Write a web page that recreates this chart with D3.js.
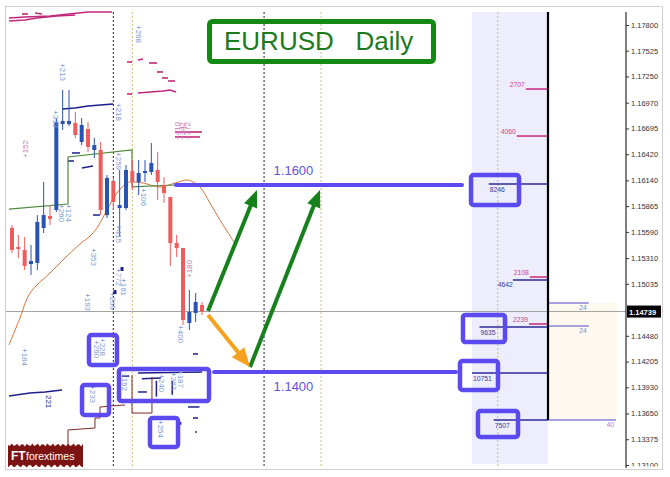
<!DOCTYPE html>
<html><head><meta charset="utf-8">
<script src="https://cdn.jsdelivr.net/npm/d3@7"></script>
<style>body{margin:0;background:#fff}svg{display:block}</style>
</head><body>
<svg id="c" width="670" height="477"></svg>
<script>
// ---------------- DATA ----------------
const opens =[1.15632,1.15429,1.15397,1.15247,1.15258,1.15632,1.15760,1.15824,1.16742,1.16742,1.16753,1.16550,1.16689,1.16465,1.16465,1.15770,1.16134,1.15845,1.15845,1.16240,1.16123,1.16219,1.16230,1.16251,1.16091,1.15963,1.15471,1.15418,1.14617,1.14724,1.14809];
const highs =[1.15664,1.15557,1.15535,1.15450,1.15770,1.16123,1.15877,1.16806,1.17106,1.17106,1.16871,1.16807,1.16764,1.16593,1.16550,1.16198,1.16166,1.16251,1.16305,1.16358,1.16358,1.16358,1.16540,1.16443,1.16176,1.15963,1.15557,1.15418,1.14969,1.14937,1.14841];
const lows  =[1.15365,1.15311,1.15183,1.15130,1.15183,1.15578,1.15664,1.15802,1.16678,1.16721,1.16593,1.16518,1.16443,1.16379,1.15770,1.15738,1.15824,1.15546,1.15824,1.16037,1.15984,1.16123,1.16198,1.15931,1.15899,1.15226,1.15322,1.14595,1.14542,1.14627,1.14702];
const closes=[1.15397,1.15407,1.15226,1.15279,1.15696,1.15770,1.15728,1.16764,1.16775,1.16775,1.16625,1.16732,1.16497,1.16518,1.15824,1.16166,1.15909,1.15877,1.16251,1.16123,1.16219,1.16240,1.16326,1.16123,1.16005,1.15471,1.15418,1.14649,1.14734,1.14841,1.14739];

const priceTicks=[1.17800,1.17525,1.17250,1.16970,1.16695,1.16420,1.16140,1.15865,1.15590,1.15310,1.15035,1.14480,1.14205,1.13930,1.13650,1.13375,1.13100];
const currentPrice=1.14739;

const blackSeparators=[16,39.8];
const tanSeparators=[19,48.8,76.7];

// moving averages (bar index, price)
const greenMA=[[-0.47,1.15834],[8.84,1.15888],[8.84,1.16390],[18.95,1.16465],[18.95,1.16070],[25.74,1.16091]];
const orangeMA=[[-0.47,1.14382],[1.26,1.14670],[2.84,1.14937],[6.0,1.15151],[8.05,1.15290],[10.74,1.15461],[12.32,1.15546],[13.42,1.15632],[15.0,1.15824],[16.58,1.16005],[18.16,1.16112],[18.95,1.16123],[20.68,1.16112],[23.37,1.16070],[25.74,1.16112],[27.63,1.16144],[28.58,1.16123],[29.68,1.16070],[31.26,1.15899],[32.84,1.15717],[35.05,1.15482]];

// order-book style level lines
const navyLines=[
 [[7.89,1.16903],[9.95,1.16913],[12.0,1.16935],[15.95,1.16956]],
 [[-0.47,1.13837],[2.84,1.13869],[5.21,1.13880],[7.89,1.13901]],
 [[9.47,1.16433],[10.74,1.16433]],[[8.84,1.16347],[9.79,1.16347]],[[11.05,1.16272],[12.79,1.16294]],[[12.79,1.15770],[13.89,1.15770]],
 [[28.58,1.14286],[29.37,1.14286]],[[28.58,1.13602],[29.37,1.13602]],[[28.9,1.13452],[29.2,1.13452]],
 [[19.89,1.14083],[30.0,1.14093]],[[17.37,1.14050],[18.5,1.14050]],[[19.9,1.13880],[21.3,1.13880]],[[20.5,1.14020],[23.5,1.14030]],
 [[22.8,1.14000],[22.8,1.13830]],[[27.8,1.13720],[29.6,1.13720]],[[25.3,1.14000],[25.3,1.13850]]
];
const navyBlobs=[[17.37,1.15215,1.15183],[16.26,1.14969,1.14937],[26.5,1.13560,1.13540]];
const pinkLines=[
 [[-0.47,1.17875],[2.05,1.17885],[6.0,1.17896],[12.0,1.17939],[15.79,1.17939]],
 [[-0.47,1.17843],[2.05,1.17853],[3.95,1.17875],[7.11,1.17896],[9.95,1.17907]],
 [[1.58,1.17918],[2.53,1.17918]],[[3.63,1.17928],[4.74,1.17918]],
 [[18.16,1.17405],[18.95,1.17405]],[[19.89,1.17426],[20.68,1.17437]],[[21.63,1.17394],[22.89,1.17394]],
 [[22.89,1.17298],[23.84,1.17298]],[[23.68,1.17234],[24.63,1.17234]],[[24.63,1.17202],[25.74,1.17202]],
 [[18.16,1.17063],[18.95,1.17063]],[[19.89,1.17074],[23.84,1.17095],[24.95,1.17106],[25.9,1.17084]],
 [[25.74,1.16657],[30.0,1.16657]],[[25.74,1.16604],[29.68,1.16604]]
];
const brownLines=[
 [[8.84,1.13314],[8.84,1.13474],[13.1,1.13495],[13.1,1.13602],[13.89,1.13602],[13.89,1.13719],[15.47,1.13730],[17.84,1.13741]],
 [[18.95,1.14061],[18.95,1.13655],[22.1,1.13655],[22.1,1.14040]]
];

// volume labels (bar index, price, text)
const blueLabels=[
 [7.58,1.17394,"+213"],[6.47,1.16892,"+333"],[16.42,1.16967,"+218"],[16.42,1.16443,"+259"],
 [7.42,1.15888,"+260"],[8.53,1.15888,"+124"],[20.37,1.16059,"+106"],[12.47,1.15418,"+353"],
 [16.42,1.15664,"+415"],[11.53,1.14937,"+193"],[16.42,1.15204,"+772"],[17.21,1.15097,"+161"],
 [15.47,1.14948,"+269"],[1.58,1.14350,"+184"],[12.32,1.13954,"+233"],[12.95,1.14435,"+260"],
 [13.89,1.14457,"+228"],[17.37,1.14083,"+162"],[23.21,1.14072,"+240"],[25.11,1.14093,"+263"],
 [26.21,1.14115,"+187"],[23.05,1.13581,"+254"],[26.21,1.14595,"+400"],[19.58,1.17800,"+268"]
];
const pinkLabels=[[2.53,1.16379,"+152"],[28.42,1.15097,"+180"],[26.53,1.16572,"+410"],[27.32,1.16572,"+342"],[28.11,1.16572,"+372"]];
const navyLabels=[[5.37,1.13848,"221"]];

// drawn targets
const targetLevels=[1.16091,1.14093];
const targetLabels=["1.1600","1.1400"];
const targetFrom=[25.9,31.9];
const targetTo=[71.05,70.1];
const greenArrows=[[[30.95,1.14745],[38.68,1.16037]],[[37.58,1.14147],[48.63,1.16037]]];
const orangeArrows=[[[30.95,1.14702],[37.58,1.14147]]];
const highlightBoxes=[
 [11.84,16.89,1.14510,1.14147],[16.58,31.42,1.14147,1.13762],[10.74,15.63,1.13976,1.13613],[21.47,26.53,1.13623,1.13271],
 [72.16,80.37,1.16219,1.15856],[70.89,78.16,1.14724,1.14392],[70.42,77.05,1.14232,1.13880],[73.26,80.21,1.13698,1.13378]
];

// order volume profile
const profileLevels=[1.17116,1.16614,1.16102,1.15108,1.15076,1.14606,1.14574,1.14083,1.13581];
const profileValues=[2707,4060,8246,2108,4642,2239,9635,10751,7507];
const profileSide=["sell","sell","buy","sell","buy","sell","buy","buy","buy"];
const positionLevels=[1.14830,1.14585,1.13581];
const positionValues=[24,24,40];

const titleText="EURUSD   Daily";

// ---------------- DRAW ----------------
const svg=d3.select("#c");
const x=d3.scaleLinear().domain([0,30]).range([12,202]);
const y=d3.scaleLinear().domain([1.131,1.178]).range([465,25]);
const plot={l:5,t:7,r:626,b:469};
const profAxis=548, profLeft=472, profRight=617;

svg.append("rect").attr("width",670).attr("height",477).attr("fill","#fff");
const defs=svg.append("defs");
defs.append("clipPath").attr("id","pc").append("rect")
  .attr("x",plot.l).attr("y",plot.t).attr("width",plot.r-plot.l).attr("height",plot.b-plot.t);
defs.append("clipPath").attr("id","ac").append("rect").attr("x",600).attr("y",0).attr("width",70).attr("height",466.5);
const g=svg.append("g").attr("clip-path","url(#pc)");

// shading
g.append("rect").attr("x",profLeft).attr("y",12).attr("width",profAxis-profLeft).attr("height",452).attr("fill","#ededfb");
g.append("rect").attr("x",profAxis).attr("y",y(positionLevels[0])).attr("width",profRight-profAxis)
  .attr("height",y(positionLevels[2])-y(positionLevels[0])).attr("fill","#fdf9ee");

// separators
blackSeparators.forEach(d=>g.append("line").attr("x1",x(d)).attr("x2",x(d)).attr("y1",12).attr("y2",466)
  .attr("stroke","#222").attr("stroke-width",1).attr("stroke-dasharray","2,2"));
tanSeparators.forEach(d=>g.append("line").attr("x1",x(d)).attr("x2",x(d)).attr("y1",12).attr("y2",466)
  .attr("stroke","#c9bd7a").attr("stroke-width",1).attr("stroke-dasharray","2,2"));

// current price line
g.append("line").attr("x1",plot.l).attr("x2",plot.r).attr("y1",y(currentPrice)).attr("y2",y(currentPrice))
  .attr("stroke","#a0a0a0").attr("stroke-width",1);

const line=d3.line().x(d=>x(d[0])).y(d=>y(d[1]));

// profile
const lenScale=d3.scaleLinear().domain([0,10751]).range([4,76]);
profileLevels.forEach((p,i)=>{
  const sell=profileSide[i]==="sell";
  const x0=profAxis-lenScale(profileValues[i]);
  g.append("line").attr("x1",x0).attr("x2",profAxis).attr("y1",y(p)).attr("y2",y(p))
   .attr("stroke",sell?"#c8287e":"#2a2a9a").attr("stroke-width",1.5);
  const t=g.append("text").text(profileValues[i]).attr("font-family","Liberation Sans, Arial").attr("font-size",6.8)
   .attr("fill",sell?"#d0408f":"#3a3a9e");
  if(sell) t.attr("x",x0-1).attr("y",y(p)-2).attr("text-anchor","end");
  else if(lenScale(profileValues[i])<45) t.attr("x",x0).attr("y",y(p)+7).attr("text-anchor","end");
  else t.attr("x",x0+1).attr("y",y(p)+8);
});
const posScale=d3.scaleLinear().domain([0,40]).range([0,68]);
positionLevels.forEach((p,i)=>{
  g.append("line").attr("x1",profAxis).attr("x2",profAxis+posScale(positionValues[i])).attr("y1",y(p)).attr("y2",y(p))
   .attr("stroke","#8a84d8").attr("stroke-width",1.5);
  g.append("text").text(positionValues[i]).attr("x",profAxis+posScale(positionValues[i])-2).attr("y",y(p)+7)
   .attr("text-anchor","end").attr("font-family","Liberation Sans, Arial").attr("font-size",6.8).attr("fill","#8a84d8");
});
g.append("line").attr("x1",profAxis).attr("x2",profAxis).attr("y1",12).attr("y2",y(positionLevels[2]))
  .attr("stroke","#000").attr("stroke-width",2.2);

// level lines
pinkLines.forEach(l=>g.append("path").attr("d",line(l)).attr("fill","none").attr("stroke","#c2297a").attr("stroke-width",1.6));
navyLines.forEach(l=>g.append("path").attr("d",line(l)).attr("fill","none").attr("stroke","#1d1d8c").attr("stroke-width",1.5));
brownLines.forEach(l=>g.append("path").attr("d",line(l)).attr("fill","none").attr("stroke","#7b2b25").attr("stroke-width",1));
navyBlobs.forEach(b=>g.append("line").attr("x1",x(b[0])).attr("x2",x(b[0])).attr("y1",y(b[1])).attr("y2",y(b[2])+1)
  .attr("stroke","#1d1d8c").attr("stroke-width",3));

// MAs
g.append("path").attr("d",d3.line().x(d=>x(d[0])).y(d=>y(d[1])).curve(d3.curveCatmullRom)(orangeMA))
  .attr("fill","none").attr("stroke","#d8733a").attr("stroke-width",1);
g.append("path").attr("d",line(greenMA)).attr("fill","none").attr("stroke","#4c8a3c").attr("stroke-width",1.2);

// candles
opens.forEach((o,i)=>{
  const c=closes[i], bull=c>=o, col=bull?"#2853b3":"#ee5c5c";
  g.append("line").attr("x1",x(i)).attr("x2",x(i)).attr("y1",y(highs[i])).attr("y2",y(lows[i])).attr("stroke",col).attr("stroke-width",1);
  const top=y(Math.max(o,c)), bot=y(Math.min(o,c));
  g.append("rect").attr("x",x(i)-2).attr("y",top).attr("width",4).attr("height",Math.max(1.5,bot-top)).attr("fill",col);
});

// volume labels
const lab=(arr,col,rot)=>arr.forEach(d=>{
  g.append("text").text(d[2]).attr("transform",`translate(${x(d[0])},${y(d[1])}) rotate(${rot})`)
   .attr("font-family","Liberation Sans, Arial").attr("font-size",8).attr("fill",col);
});
lab(blueLabels,"#7d9bd2",90);
lab(pinkLabels,"#cf74b8",-90);
lab(navyLabels,"#1d1d8c",90);

// target lines
const blue="#5a4af0";
targetLevels.forEach((p,i)=>{
  g.append("line").attr("x1",x(targetFrom[i])).attr("x2",x(targetTo[i])).attr("y1",y(p)).attr("y2",y(p))
   .attr("stroke",blue).attr("stroke-width",4).attr("stroke-linecap","round");
  g.append("text").text(targetLabels[i]).attr("x",x(41.3)).attr("y",i===0?y(p)-10:y(p)+19)
   .attr("font-family","Liberation Sans, Arial").attr("font-size",13).attr("fill","#5e56d6");
});

// boxes
highlightBoxes.forEach(b=>{
  const x0=x(b[0])+2,x1=x(b[1])-2,y0=y(b[2])+2,y1=y(b[3])-2;
  g.append("rect").attr("x",x0).attr("y",y0).attr("width",x1-x0).attr("height",y1-y0).attr("rx",2.5)
   .attr("fill","none").attr("stroke",blue).attr("stroke-width",4.5);
});

// arrows
function arrow(a,col,w,hl,hw){
  const x1=x(a[0][0]),y1=y(a[0][1]),x2=x(a[1][0]),y2=y(a[1][1]);
  const dx=x2-x1,dy=y2-y1,L=Math.hypot(dx,dy),ux=dx/L,uy=dy/L,nx=-uy,ny=ux;
  const bx=x2-ux*hl,by=y2-uy*hl;
  g.append("line").attr("x1",x1).attr("y1",y1).attr("x2",bx+ux*2).attr("y2",by+uy*2).attr("stroke",col).attr("stroke-width",w);
  g.append("path").attr("d",`M${x2},${y2}L${bx+nx*hw/2},${by+ny*hw/2}L${bx-nx*hw/2},${by-ny*hw/2}Z`).attr("fill",col);
}
greenArrows.forEach(a=>arrow(a,"#16801c",4,17,14));
orangeArrows.forEach(a=>arrow(a,"#f7a21e",4,19,16));

// title
svg.append("rect").attr("x",209.5).attr("y",21.5).attr("width",224).attr("height",40).attr("rx",3)
  .attr("fill","none").attr("stroke","#148a14").attr("stroke-width",5);
svg.append("text").text(titleText).attr("x",224).attr("y",50).attr("xml:space","preserve").style("white-space","pre")
  .attr("font-family","Liberation Sans, Arial").attr("font-size",26).attr("fill","#1b7a1b");

// axis
svg.append("line").attr("x1",plot.r).attr("x2",plot.r).attr("y1",12).attr("y2",468).attr("stroke","#000").attr("stroke-width",1);
const axWrap=svg.append("g").attr("clip-path","url(#ac)");
const ax=axWrap.append("g").attr("transform",`translate(${plot.r},0)`)
  .call(d3.axisRight(y).tickValues(priceTicks).tickFormat(d3.format(".5f")).tickSize(3).tickPadding(2));
ax.select(".domain").remove();
ax.selectAll("text").attr("font-family","Liberation Sans, Arial").attr("font-size",7.5).attr("fill","#333");
ax.selectAll("line").attr("stroke","#333");
svg.append("rect").attr("x",plot.r+1).attr("y",y(currentPrice)-6).attr("width",34).attr("height",12).attr("fill","#000");
svg.append("text").text(d3.format(".5f")(currentPrice)).attr("x",plot.r+3).attr("y",y(currentPrice)+3)
  .attr("font-family","Liberation Sans, Arial").attr("font-size",7.5).attr("font-weight","bold").attr("fill","#fff");

// logo
const pts=[];for(let k=0;k<=40;k++){const t=k/40;pts.push([8+t*75,445+Math.sin(k*2.3)*1.5]);}
for(let k=40;k>=0;k--){const t=k/40;pts.push([8+t*75,466+Math.cos(k*1.9)*1.5]);}
svg.append("path").attr("d","M"+pts.map(p=>p.join(",")).join("L")+"Z").attr("fill","#7c1414");
svg.append("text").text("FT").attr("x",11).attr("y",460).attr("font-family","Liberation Sans, Arial").attr("font-weight","bold")
  .attr("font-size",12).attr("fill","#fff");
svg.append("text").text("forextimes").attr("x",26).attr("y",460).attr("font-family","Liberation Sans, Arial")
  .attr("font-size",10.5).attr("fill","#fff");

// frame
svg.append("rect").attr("x",5.5).attr("y",6.5).attr("width",657).attr("height",463).attr("fill","none").attr("stroke","#cfcfcf");
</script>
</body></html>
